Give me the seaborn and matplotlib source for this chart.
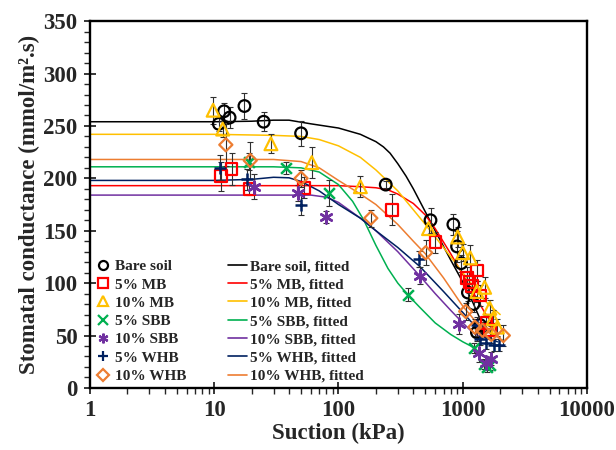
import matplotlib
matplotlib.use("Agg")
import matplotlib.pyplot as plt
from matplotlib.lines import Line2D
from matplotlib.ticker import LogLocator, MultipleLocator, FuncFormatter, NullFormatter
import seaborn as sns

# ---------------------------------------------------------------
# measured data (suction kPa, conductance mmol/m2.s, error)
bare_x = [10.9, 12, 13.3, 17.5, 25, 50, 240, 550, 840, 900, 970, 1100, 1220, 1300, 1380]
bare_y = [252, 264, 258, 269, 254, 243, 194, 160, 156, 135, 119, 91, 80, 53, 60]
bare_err = [7, 8, 10, 12, 9, 12, 3, 12, 10, 15, 8, 8, 8, 8, 8]

mb5_x = [11.4, 13.8, 19.2, 53, 271, 603, 1080, 1130, 1180, 1300, 1380, 1550, 1650]
mb5_y = [202, 209, 190, 191, 170, 139, 105, 101, 97, 112, 88, 62, 55]
mb5_err = [14, 15, 6, 10, 15, 10, 10, 10, 10, 10, 10, 8, 8]

mb10_x = [9.8, 11.7, 28.6, 61, 150, 530, 910, 1000, 1150, 1300, 1500, 1650, 1750, 1900]
mb10_y = [265, 247, 233, 215, 192, 152, 144, 129, 124, 92, 96, 76, 66, 58]
mb10_err = [13, 8, 9, 15, 10, 5, 10, 8, 12, 10, 10, 8, 8, 8]

sbb5_x = [19.2, 38, 84, 363, 1230, 1480, 1580, 1660]
sbb5_y = [216, 210, 186, 89, 38, 23, 20, 22]
sbb5_err = [8, 6, 12, 6, 5, 5, 5, 5]

sbb10_x = [21, 47.5, 80, 450, 930, 1360, 1550, 1700]
sbb10_y = [192, 186, 163, 107, 61, 33, 24, 28]
sbb10_err = [12, 8, 6, 8, 10, 8, 6, 6]

whb5_x = [11.1, 18.5, 49.6, 444, 1290, 1380, 1550, 1800, 1950]
whb5_y = [210, 199, 175, 123, 60, 47, 43, 41, 41]
whb5_err = [12, 10, 10, 8, 8, 6, 6, 6, 6]

whb10_x = [12.4, 19.5, 50, 182, 503, 1055, 1250, 1440, 1700, 2120]
whb10_y = [232, 217, 200, 162, 129, 73, 58, 55, 51, 50]
whb10_err = [20, 18, 8, 8, 12, 8, 8, 8, 8, 10]

# fitted curves
bare_fit_x = [1, 10, 20, 30, 40, 60, 100, 150, 200, 230, 260, 300, 350, 400, 500, 600, 800, 1000, 1200, 1400, 1550]
bare_fit_y = [254, 254, 254.5, 255.5, 255.5, 252, 248, 242, 235, 230, 224, 214, 202, 190, 168, 150, 122, 101, 82, 64, 52]

mb5_fit_x = [1, 10, 50, 100, 150, 200, 250, 300, 400, 500, 600, 800, 1000, 1200, 1500, 1800]
mb5_fit_y = [193, 193, 193, 193, 192, 191, 189, 185, 176, 165, 152, 128, 108, 92, 72, 58]

mb10_fit_x = [1, 10, 30, 50, 70, 100, 150, 200, 300, 400, 500, 700, 1000, 1300, 1600, 2000]
mb10_fit_y = [242, 242, 241, 240, 237, 231, 220, 208, 188, 170, 156, 134, 110, 92, 80, 70]

sbb5_fit_x = [1, 10, 30, 50, 70, 100, 130, 160, 200, 250, 300, 360, 450, 600, 800, 1000, 1250]
sbb5_fit_y = [211, 211, 211, 210, 206, 194, 178, 160, 136, 114, 100, 89, 77, 62, 51, 44, 38]

sbb10_fit_x = [1, 10, 30, 60, 80, 100, 150, 200, 300, 450, 600, 800, 1000, 1200, 1450]
sbb10_fit_y = [184, 184, 184, 184, 182, 177, 162, 150, 130, 107, 90, 74, 62, 53, 47]

whb5_fit_x = [1, 10, 20, 30, 40, 50, 70, 100, 150, 200, 300, 450, 700, 1000, 1300, 1600, 1900]
whb5_fit_y = [198, 198, 199, 201, 200.5, 197, 188, 175, 162, 150, 134, 116, 92, 72, 57, 48, 44]

whb10_fit_x = [1, 10, 30, 50, 70, 100, 150, 200, 300, 400, 500, 700, 1000, 1300, 1600, 2000]
whb10_fit_y = [218, 218, 218, 216, 210, 198, 185, 175, 156, 140, 128, 105, 78, 62, 53, 48]

labels = ["Bare soil", "5% MB", "10% MB", "5% SBB", "10% SBB", "5% WHB", "10% WHB"]
colors = ["#000000", "#FF0000", "#FFC000", "#00B050", "#7030A0", "#002060", "#ED7D31"]
markers = ["o", "s", "^", "x", (6, 2, 0), "+", "D"]
filled = [True, True, True, False, False, False, True]

points = [(bare_x, bare_y, bare_err), (mb5_x, mb5_y, mb5_err), (mb10_x, mb10_y, mb10_err),
          (sbb5_x, sbb5_y, sbb5_err), (sbb10_x, sbb10_y, sbb10_err),
          (whb5_x, whb5_y, whb5_err), (whb10_x, whb10_y, whb10_err)]
fits = [(bare_fit_x, bare_fit_y), (mb5_fit_x, mb5_fit_y), (mb10_fit_x, mb10_fit_y),
        (sbb5_fit_x, sbb5_fit_y), (sbb10_fit_x, sbb10_fit_y),
        (whb5_fit_x, whb5_fit_y), (whb10_fit_x, whb10_fit_y)]
sizes = [70, 70, 85, 60, 75, 75, 45]

# ---------------------------------------------------------------
sns.set_theme(style="ticks")
plt.rcParams['font.family'] = ['Liberation Serif', 'DejaVu Serif']
plt.rcParams['font.weight'] = 'bold'

fig, ax = plt.subplots(figsize=(6.16, 4.5), dpi=100)
fig.subplots_adjust(left=0.146, right=0.953, bottom=0.138, top=0.953)
ax.set_xscale("log")

# fitted lines
for (fx, fy), c in zip(fits, colors):
    sns.lineplot(x=fx, y=fy, color=c, lw=1.1, ax=ax, estimator=None, sort=False)

# error bars
for (px, py, pe) in points:
    ax.errorbar(px, py, yerr=pe, fmt="none", ecolor="#303030", elinewidth=0.8,
                capsize=2, capthick=0.8, zorder=3)

# measured points
for (px, py, pe), c, m, f, s in zip(points, colors, markers, filled, sizes):
    if f:
        sns.scatterplot(x=px, y=py, marker=m, s=s, facecolor="none", edgecolor=c,
                        linewidth=1.6, ax=ax, zorder=4)
    else:
        sns.scatterplot(x=px, y=py, marker=m, s=s, color=c, linewidth=1.8, ax=ax, zorder=4)

ax.set_xlim(1, 10000)
ax.set_ylim(0, 350)
ax.yaxis.set_major_locator(MultipleLocator(50))
ax.yaxis.set_minor_locator(MultipleLocator(10))
ax.xaxis.set_major_locator(LogLocator(base=10, numticks=10))
ax.xaxis.set_minor_locator(LogLocator(base=10, subs=range(2, 10), numticks=50))
ax.xaxis.set_major_formatter(FuncFormatter(lambda v, p: "%d" % v))
ax.xaxis.set_minor_formatter(NullFormatter())

ax.tick_params(which="major", direction="inout", length=8, width=1.3, labelsize=16.5, pad=5)
ax.tick_params(which="minor", direction="out", length=4, width=1.0)
for sp in ax.spines.values():
    sp.set_linewidth(1.7)
    sp.set_color("black")

ax.set_xlabel("Suction (kPa)", fontsize=16.5, fontweight="bold", labelpad=1)
ax.set_ylabel("Stomatal conductance (mmol/m².s)", fontsize=16.5, fontweight="bold", labelpad=2)

# legends
h1 = []
for c, m, f in zip(colors, markers, filled):
    h1.append(Line2D([], [], ls="none", marker=m, ms=6.5 if f else 7,
                     mfc="none", mec=c, mew=1.6))
h2 = [Line2D([], [], color=c, lw=1.2) for c in colors]
leg_kw = dict(frameon=False, loc="upper left", handlelength=1.25, handletextpad=0.15,
              labelspacing=0.3, borderpad=0, borderaxespad=0,
              prop={"family": "Liberation Serif", "weight": "bold", "size": 11})
leg1 = ax.legend(h1, labels, bbox_to_anchor=(0.008, 0.35), **leg_kw)
ax.add_artist(leg1)
ax.legend(h2, [l + ", fitted" for l in labels], bbox_to_anchor=(0.278, 0.35), **leg_kw)

fig.savefig("out.png", dpi=100)
